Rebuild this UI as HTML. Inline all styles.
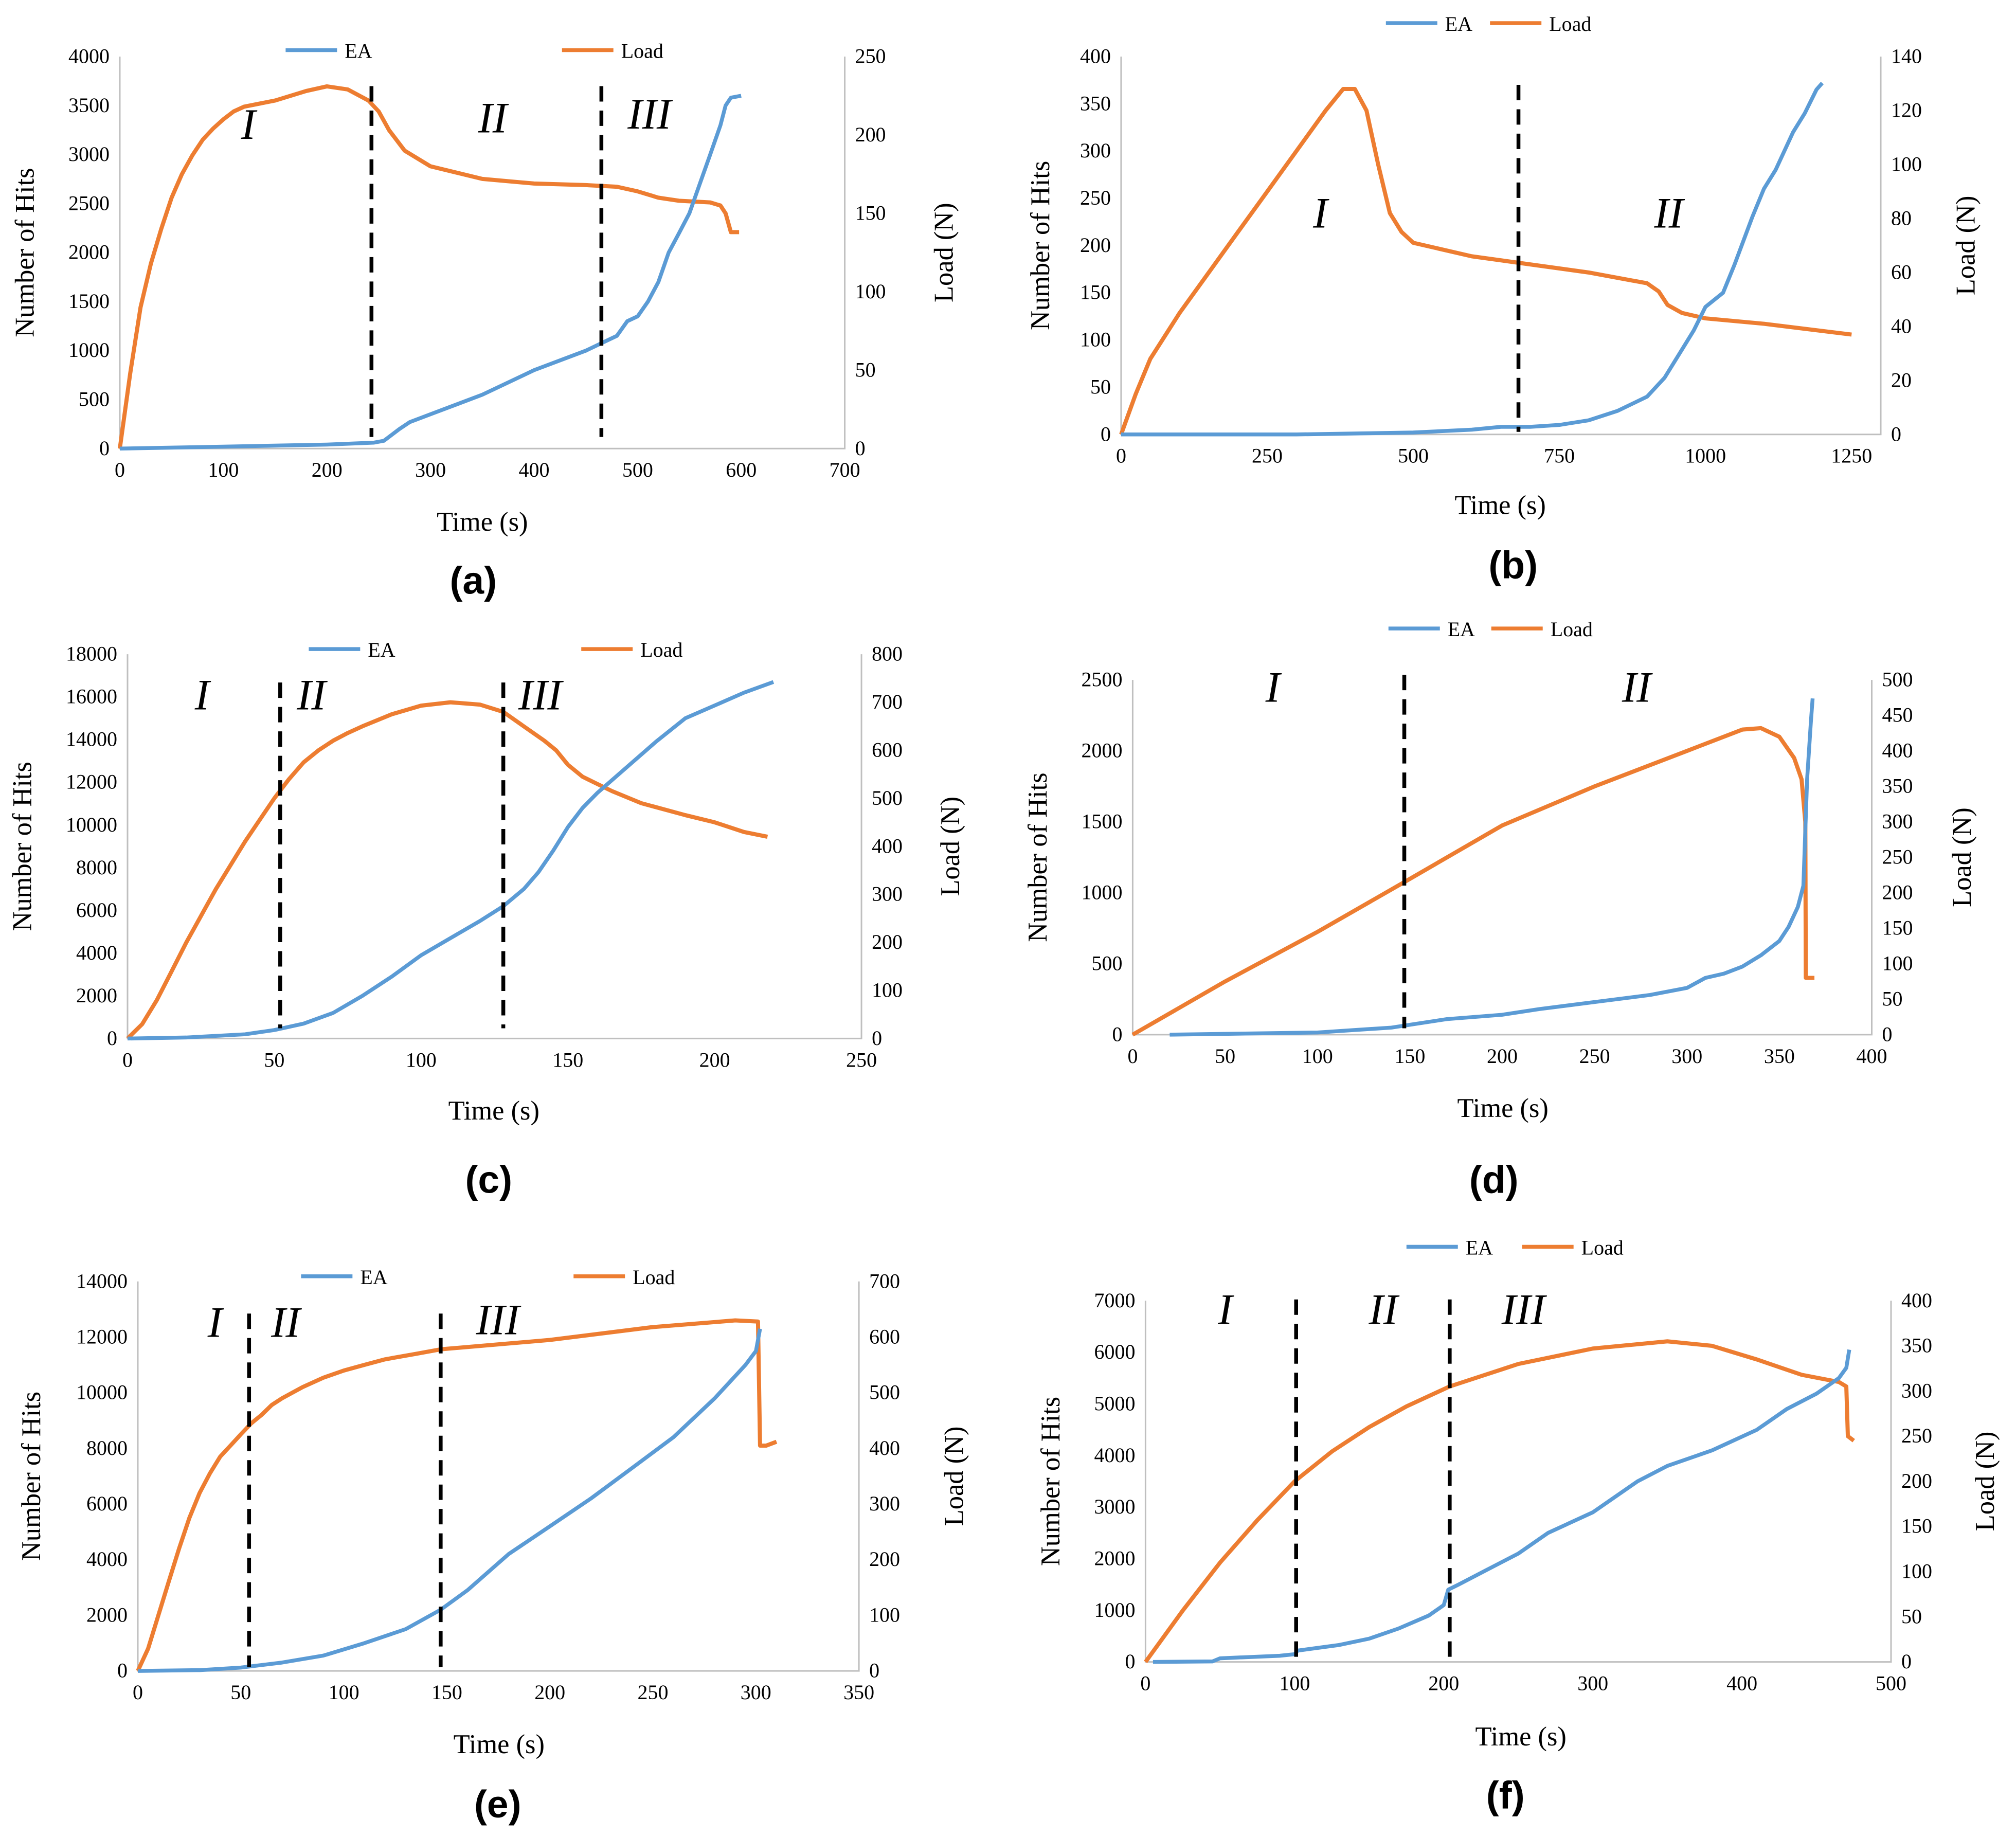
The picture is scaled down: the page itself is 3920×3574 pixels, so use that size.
<!DOCTYPE html>
<html><head><meta charset="utf-8"><style>
html,body{margin:0;padding:0;background:#fff}
svg{display:block}
text{font-family:"Liberation Serif",serif;fill:#000}
</style></head><body>
<svg id="fig" width="3920" height="3574" viewBox="0 0 1568 1430" xmlns="http://www.w3.org/2000/svg"></svg>
<script>
// ---- data (time s, hits / load N) ----
const aEaT=[0,100,200,245,255,270,280,300,350,400,450,470,480,490,500,510,520,530,540,550,560,570,580,585,590,600];
const aEaV=[0,20,40,60,80,200,270,350,550,800,1000,1100,1150,1300,1350,1500,1700,2000,2200,2400,2700,3000,3300,3500,3580,3600];
const aLoadT=[0,10,20,30,40,50,60,70,80,90,100,110,120,150,180,200,220,240,250,260,275,300,350,400,450,480,500,520,540,570,580,585,590,598];
const aLoadV=[0,48,90,118,140,160,175,187,197,204,210,215,218,222,228,231,229,222,215,203,190,180,172,169,168,167,164,160,158,157,155,150,138,138];
const bEaT=[0,300,500,600,650,700,750,800,850,900,930,960,980,1000,1030,1050,1080,1100,1120,1150,1170,1190,1200];
const bEaV=[0,0,2,5,8,8,10,15,25,40,60,90,110,135,150,180,230,260,280,320,340,365,372];
const bLoadT=[0,25,50,100,150,200,250,300,350,380,400,420,440,460,480,500,600,700,800,900,920,935,960,1000,1100,1250];
const bLoadV=[0,15,28,45,60,75,90,105,120,128,128,120,100,82,75,71,66,63,60,56,53,48,45,43,41,37];
const cEaT=[0,20,40,50,60,70,80,90,100,110,120,128,135,140,145,150,155,160,170,180,190,200,210,220];
const cEaV=[0,50,200,400,700,1200,2000,2900,3900,4700,5500,6200,7000,7800,8800,9900,10800,11500,12700,13900,15000,15600,16200,16700];
const cLoadT=[0,5,10,15,20,25,30,35,40,45,50,55,60,65,70,75,80,90,100,110,120,128,135,142,146,150,155,160,165,175,190,200,210,218];
const cLoadV=[0,30,80,140,200,255,310,360,410,455,500,540,575,600,620,636,650,675,693,700,695,680,650,620,600,570,545,530,515,490,465,450,430,420];
const dEaT=[20,100,140,150,170,200,220,250,280,300,310,320,330,340,350,355,360,363,365,367,368];
const dEaV=[0,15,50,70,110,140,180,230,280,330,400,430,480,560,660,760,900,1050,1800,2200,2370];
const dLoadT=[0,50,100,147,200,250,300,330,340,350,358,362,364,364.3,369];
const dLoadV=[0,75,145,215,295,350,400,430,432,420,390,360,300,80,80];
const eEaT=[0,30,50,70,90,110,130,147,160,180,200,220,240,260,280,295,300,302];
const eEaV=[0,30,120,300,550,1000,1500,2200,2900,4200,5200,6200,7300,8400,9800,11000,11500,12300];
const eLoadT=[0,5,10,15,20,25,30,35,40,45,50,55,60,65,70,80,90,100,110,120,135,147,200,250,290,301,302,305,310];
const eLoadV=[0,40,100,160,220,275,320,355,385,405,425,445,460,478,490,510,527,540,550,560,570,578,595,618,630,628,405,405,412];
const fEaT=[5,45,50,90,100,102,130,150,170,190,200,203,210,230,250,270,300,330,350,380,410,430,450,465,470,472];
const fEaV=[0,10,70,120,150,220,330,450,650,900,1100,1400,1500,1800,2100,2500,2900,3500,3800,4100,4500,4900,5200,5500,5700,6050];
const fLoadT=[0,25,50,75,100,125,150,175,204,250,300,350,380,410,440,465,470,471,475];
const fLoadV=[0,57,110,157,200,233,260,283,305,330,347,355,350,335,318,310,305,250,245];
const aXTicks=[0,100,200,300,400,500,600,700], aYL=[0,500,1000,1500,2000,2500,3000,3500,4000], aYR=[0,50,100,150,200,250];
const bXTicks=[0,250,500,750,1000,1250], bYL=[0,50,100,150,200,250,300,350,400], bYR=[0,20,40,60,80,100,120,140];
const cXTicks=[0,50,100,150,200,250], cYL=[0,2000,4000,6000,8000,10000,12000,14000,16000,18000], cYR=[0,100,200,300,400,500,600,700,800];
const dXTicks=[0,50,100,150,200,250,300,350,400], dYL=[0,500,1000,1500,2000,2500], dYR=[0,50,100,150,200,250,300,350,400,450,500];
const eXTicks=[0,50,100,150,200,250,300,350], eYL=[0,2000,4000,6000,8000,10000,12000,14000], eYR=[0,100,200,300,400,500,600,700];
const fXTicks=[0,100,200,300,400,500], fYL=[0,1000,2000,3000,4000,5000,6000,7000], fYR=[0,50,100,150,200,250,300,350,400];
const aStages=[243,465], bStages=[680], cStages=[52,128], dStages=[147], eStages=[54,147], fStages=[101,204];

const svg=document.getElementById('fig');
const NS='http://www.w3.org/2000/svg';
function mk(tag,attrs,parent,txt){const e=document.createElementNS(NS,tag);for(const k in attrs)e.setAttribute(k,attrs[k]);if(txt!==undefined)e.textContent=txt;(parent||svg).appendChild(e);return e;}

const panels=[
 {id:'a',L:93,R:657,T:44,B:349,xt:aXTicks,yl:aYL,yr:aYR,eT:aEaT,eV:aEaV,lT:aLoadT,lV:aLoadV,st:aStages,dTop:67,dBot:340,
  leg:[222,437,39],lyl:20,lyr:735,tx:375,ty:413,cap:[368,462],rom:[['I',193,108],['II',383,103],['III',505,100]]},
 {id:'b',L:872,R:1463,T:44,B:338,xmax:1300,xt:bXTicks,yl:bYL,yr:bYR,eT:bEaT,eV:bEaV,lT:bLoadT,lV:bLoadV,st:bStages,dTop:66,dBot:336,
  leg:[1078,1159,18],lyl:810,lyr:1530,tx:1167,ty:400,cap:[1177,450],rom:[['I',1027,177],['II',1298,177]]},
 {id:'c',L:99,R:670,T:509,B:808,xt:cXTicks,yl:cYL,yr:cYR,eT:cEaT,eV:cEaV,lT:cLoadT,lV:cLoadV,st:cStages,dTop:531,dBot:800,
  leg:[240,452,505],lyl:18,lyr:740,tx:384,ty:871,cap:[380,928],rom:[['I',157,552],['II',242,552],['III',420,552]]},
 {id:'d',L:881,R:1456,T:529,B:805,xt:dXTicks,yl:dYL,yr:dYR,eT:dEaT,eV:dEaV,lT:dLoadT,lV:dLoadV,st:dStages,dTop:525,dBot:800,
  leg:[1080,1160,489],lyl:808,lyr:1527,tx:1169,ty:869,cap:[1162,928],rom:[['I',990,546],['II',1273,546]]},
 {id:'e',L:107,R:668,T:997,B:1300,xt:eXTicks,yl:eYL,yr:eYR,eT:eEaT,eV:eEaV,lT:eLoadT,lV:eLoadV,st:eStages,dTop:1022,dBot:1297,
  leg:[234,446,993],lyl:25,lyr:743,tx:388,ty:1364,cap:[387,1414],rom:[['I',167,1040],['II',222,1040],['III',387,1038]]},
 {id:'f',L:891,R:1471,T:1012,B:1293,xt:fXTicks,yl:fYL,yr:fYR,eT:fEaT,eV:fEaV,lT:fLoadT,lV:fLoadV,st:fStages,dTop:1011,dBot:1290,
  leg:[1094,1184,970],lyl:818,lyr:1545,tx:1183,ty:1358,cap:[1171,1407],rom:[['I',953,1030],['II',1076,1030],['III',1185,1030]]}
];

panels.forEach(p=>{
 const g=mk('g',{});
 
 
 const xmax=p.xmax||p.xt[p.xt.length-1];
 const X=t=>p.L+(t-p.xt[0])/(xmax-p.xt[0])*(p.R-p.L);
 const YL=v=>p.B-v/p.yl[p.yl.length-1]*(p.B-p.T);
 const YR=v=>p.B-v/p.yr[p.yr.length-1]*(p.B-p.T);
 const ax=mk('path',{d:`M${p.L},${p.T}V${p.B}H${p.R}V${p.T}`,fill:'none',stroke:'#bfbfbf','stroke-width':1.2},g);
 
 
 p.xt.forEach(t=>{const e=mk('text',{x:X(t),y:p.B+22,'font-size':16,'text-anchor':'middle'},g,String(t));
  });
 p.yl.forEach(v=>{const e=mk('text',{x:p.L-8,y:YL(v)+5,'font-size':16,'text-anchor':'end'},g,String(v));
  });
 p.yr.forEach(v=>{const e=mk('text',{x:p.R+8,y:YR(v)+5,'font-size':16,'text-anchor':'start'},g,String(v));
  });
 let e=mk('text',{x:p.tx,y:p.ty,'font-size':21,'text-anchor':'middle'},g,'Time (s)');
 
 const my=(p.T+p.B)/2;
 e=mk('text',{x:p.lyl,y:my,'font-size':21,'text-anchor':'middle',transform:`rotate(-90 ${p.lyl} ${my})`,dy:6},g,'Number of Hits');
 
 e=mk('text',{x:p.lyr,y:my,'font-size':21,'text-anchor':'middle',transform:`rotate(-90 ${p.lyr} ${my})`,dy:6},g,'Load (N)');
 
 e=mk('text',{x:p.cap[0],y:p.cap[1],'font-size':30,'font-weight':'bold','text-anchor':'middle',style:'font-family:"Liberation Sans",sans-serif'},g,'('+p.id+')');
 
 const [ex,lx,ly]=p.leg;
 e=mk('line',{x1:ex,x2:ex+40,y1:ly,y2:ly,stroke:'#5b9bd5','stroke-width':3},g);
 
 e=mk('text',{x:ex+46,y:ly+6,'font-size':16},g,'EA');
 
 e=mk('line',{x1:lx,x2:lx+40,y1:ly,y2:ly,stroke:'#ed7d31','stroke-width':3},g);
 
 e=mk('text',{x:lx+46,y:ly+6,'font-size':16},g,'Load');
 
 e=mk('polyline',{points:p.lT.map((t,i)=>X(t).toFixed(1)+','+YR(p.lV[i]).toFixed(1)).join(' '),fill:'none',stroke:'#ed7d31','stroke-width':3.2,'stroke-linejoin':'round'},g);
 
 e=mk('polyline',{points:p.eT.map((t,i)=>X(t).toFixed(1)+','+YL(p.eV[i]).toFixed(1)).join(' '),fill:'none',stroke:'#5b9bd5','stroke-width':3,'stroke-linejoin':'round'},g);
 
 p.st.forEach(t=>{const d=mk('line',{x1:X(t),x2:X(t),y1:p.dTop,y2:p.dBot,stroke:'#000','stroke-width':3,'stroke-dasharray':'12,7'},g);
  });
 p.rom.forEach(r=>{const d=mk('text',{x:r[1],y:r[2],'font-size':34,'font-style':'italic','text-anchor':'middle'},g,r[0]);
  });
});
</script>
</body></html>
